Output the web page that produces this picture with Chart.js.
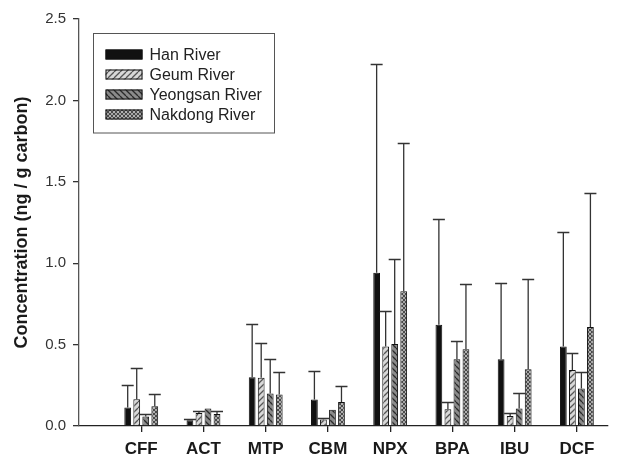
<!DOCTYPE html>
<html>
<head>
<meta charset="utf-8">
<script src="https://cdn.jsdelivr.net/npm/chart.js@4/dist/chart.umd.min.js"></script>
<style>
body{margin:0;background:#fff}
#wrap{width:638px;height:459px}
</style>
</head>
<body>
<div id="wrap"><canvas id="chart1"></canvas></div>
<script>
const categories = ["CFF","ACT","MTP","CBM","NPX","BPA","IBU","DCF"]
const seriesNames = ["Han River","Geum River","Yeongsan River","Nakdong River"]

// bar heights
const han      = [0.114,0.035,0.300,0.163,0.941,0.622,0.410,0.488]
const geum     = [0.165,0.080,0.296,0.040,0.488,0.103,0.062,0.344]
const yeongsan = [0.058,0.107,0.200,0.100,0.503,0.410,0.107,0.231]
const nakdong  = [0.122,0.074,0.194,0.148,0.828,0.472,0.348,0.608]

// top of the error bars
const hanUpper      = [0.250,0.040,0.626,0.338,2.224,1.272,0.881,1.192]
const geumUpper     = [0.358,0.093,0.509,0.050,0.708,0.145,0.080,0.447]
const yeongsanUpper = [0.072,0.107,0.414,0.100,1.023,0.523,0.204,0.334]
const nakdongUpper  = [0.196,0.093,0.334,0.245,1.736,0.875,0.904,1.433]

const yTicks = [0,0.5,1,1.5,2,2.5]

function tile(size, bg, draw){
  var c = document.createElement("canvas")
  c.width = size; c.height = size
  var g = c.getContext("2d")
  g.fillStyle = bg
  g.fillRect(0,0,size,size)
  draw(g,size)
  return g.createPattern(c,"repeat")
}
function lines(g,s,dir){
  g.lineWidth = 1.3
  for(var o=-s;o<=s;o+=s){
    g.beginPath()
    if(dir>0){ g.moveTo(o,s); g.lineTo(o+s,0) }
    else { g.moveTo(o,0); g.lineTo(o+s,s) }
    g.stroke()
  }
}
const fills = [
  "#111111",
  tile(6,"#d8d8d8",function(g,s){ g.strokeStyle="#555"; lines(g,s,1) }),
  tile(6,"#8a8a8a",function(g,s){ g.strokeStyle="#2a2a2a"; lines(g,s,-1) }),
  tile(4,"#ffffff",function(g,s){ g.strokeStyle="#4a4a4a"; lines(g,s,1); lines(g,s,-1) })
]
const values = [han,geum,yeongsan,nakdong]
const uppers = [hanUpper,geumUpper,yeongsanUpper,nakdongUpper]

const errorBars = {
  id:"errorBars",
  afterDatasetsDraw(chart){
    var ctx = chart.ctx, ys = chart.scales.y
    ctx.save()
    ctx.strokeStyle = "#333"
    ctx.lineWidth = 1.3
    chart.data.datasets.forEach(function(ds,i){
      var meta = chart.getDatasetMeta(i)
      meta.data.forEach(function(bar,j){
        var up = uppers[i][j]
        if(up <= values[i][j]) return
        var yt = Math.round(ys.getPixelForValue(up))+0.5
        ctx.beginPath()
        ctx.moveTo(bar.x, bar.y)
        ctx.lineTo(bar.x, yt)
        ctx.moveTo(bar.x-6, yt)
        ctx.lineTo(bar.x+6, yt)
        ctx.stroke()
      })
    })
    ctx.restore()
  }
}

const boxLegend = {
  id:"boxLegend",
  afterDraw(chart){
    var ctx = chart.ctx, a = chart.chartArea
    var x0 = a.left+14.5, y0 = a.top+14.5
    ctx.save()
    ctx.strokeStyle = "#555"
    ctx.lineWidth = 1
    ctx.strokeRect(x0, y0, 181, 99.5)
    ctx.font = "16px 'Liberation Sans', Arial, sans-serif"
    ctx.textBaseline = "middle"
    seriesNames.forEach(function(n,i){
      var cy = y0 + 21 + i*20
      ctx.fillStyle = fills[i]
      ctx.fillRect(x0+12, cy-5, 37, 10)
      ctx.strokeStyle = "#111"
      ctx.strokeRect(x0+12.5, cy-4.5, 36, 9)
      ctx.fillStyle = "#222"
      ctx.fillText(n, x0+56, cy+1)
    })
    ctx.restore()
  }
}

new Chart(document.getElementById("chart1"), {
  type:"bar",
  data:{
    datasets: seriesNames.map(function(n,i){
      return {
        label:n,
        data: values[i].map(function(v,j){ return {x:j, y:v} }),
        backgroundColor: fills[i],
        borderColor:"#111",
        borderWidth:1,
        categoryPercentage:0.58,
        barPercentage:0.75
      }
    })
  },
  options:{
    animation:false,
    responsive:true,
    maintainAspectRatio:false,
    layout:{padding:{top:19,right:30,bottom:0,left:0}},
    plugins:{legend:{display:false}, tooltip:{enabled:false}},
    scales:{
      x:{
        type:"linear",
        min:-1, max:7.5,
        offset:false,
        afterFit: function(s){ s.height = 33 },
        grid:{offset:false, drawOnChartArea:false, tickLength:6, color:"#222", lineWidth:1.3},
        border:{color:"#222", width:1.3},
        afterBuildTicks: function(s){ s.ticks = categories.map(function(c,i){ return {value:i} }) },
        ticks:{
          autoSkip:false, maxRotation:0, padding:7,
          callback:function(v){ return categories[v] },
          font:{family:"'Liberation Sans', Arial, sans-serif", size:17, weight:"bold"},
          color:"#1a1a1a"
        }
      },
      y:{
        min:0, max:2.5,
        afterFit: function(s){ s.width = 79 },
        afterBuildTicks: function(s){ s.ticks = yTicks.map(function(v){ return {value:v} }) },
        grid:{drawOnChartArea:false, tickLength:6, color:"#333", lineWidth:1.3},
        border:{color:"#555", width:1.3},
        ticks:{
          padding:7,
          callback:function(v){ return v.toFixed(1) },
          font:{family:"'Liberation Sans', Arial, sans-serif", size:15},
          color:"#333"
        },
        title:{
          display:true,
          text:"Concentration (ng / g carbon)",
          font:{family:"'Liberation Sans', Arial, sans-serif", size:18, weight:"bold"},
          color:"#1a1a1a",
          padding:{top:11,bottom:0}
        }
      }
    }
  },
  plugins:[errorBars, boxLegend]
})
</script>
</body>
</html>
